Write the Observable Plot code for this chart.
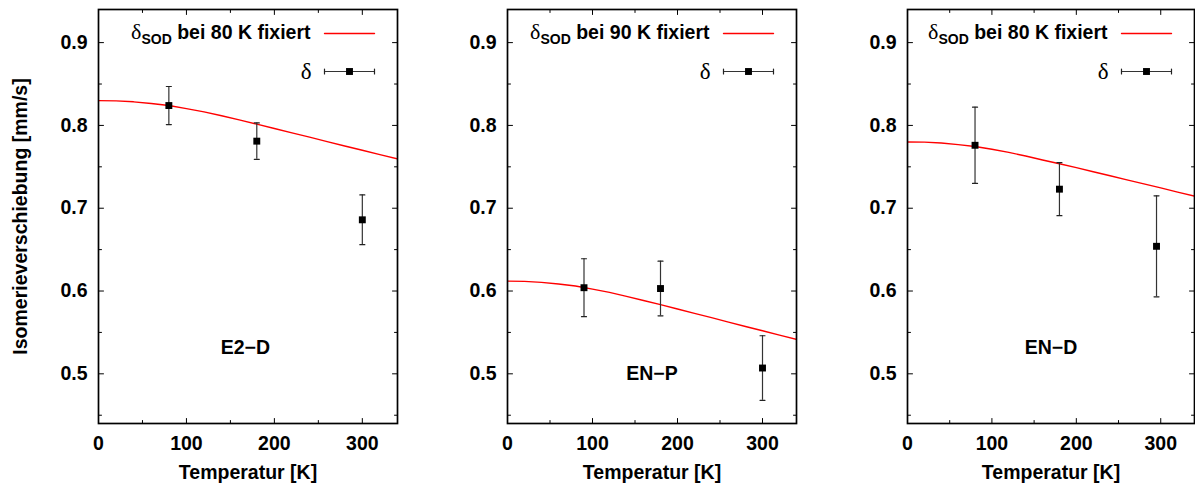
<!DOCTYPE html>
<html><head><meta charset="utf-8">
<script src="https://cdn.jsdelivr.net/npm/d3@7"></script>
<script src="https://cdn.jsdelivr.net/npm/@observablehq/plot@0.6"></script>
<style>
body{margin:0;background:#fff;}
#wrap{position:relative;width:1195px;height:484px;overflow:hidden;background:#fff;}
.panel{position:absolute;top:0;}
</style></head><body><div id="wrap"></div>
<script>
// ---- data ----
const sampleNames = ["E2−D", "EN−P", "EN−D"];
const fixLabels = ["δSOD bei 80 K fixiert", "δSOD bei 90 K fixiert", "δSOD bei 80 K fixiert"];

const tempE2D = [80, 180, 300];
const deltaE2D = [0.824, 0.781, 0.686];
const errE2D = [0.023, 0.022, 0.030];

const tempENP = [90, 180, 300];
const deltaENP = [0.604, 0.603, 0.507];
const errENP = [0.035, 0.033, 0.039];

const tempEND = [80, 180, 295];
const deltaEND = [0.776, 0.723, 0.654];
const errEND = [0.046, 0.032, 0.061];

const fitT = [0, 20, 40, 60, 80, 100, 120, 140, 160, 180, 200, 220, 240, 260, 280, 300, 320, 340];
const fitE2D = [0.830, 0.8297, 0.8285, 0.8265, 0.824, 0.8203, 0.8163, 0.8117, 0.8067, 0.8015, 0.7963, 0.791, 0.7858, 0.7805, 0.7752, 0.770, 0.7647, 0.7595];
const fitENP = [0.612, 0.6117, 0.6105, 0.6085, 0.606, 0.6023, 0.5983, 0.5935, 0.5885, 0.5835, 0.5783, 0.573, 0.5678, 0.5625, 0.5572, 0.552, 0.5467, 0.5415];
const fitEND = [0.780, 0.7798, 0.7787, 0.7768, 0.7745, 0.7712, 0.7675, 0.763, 0.7583, 0.7537, 0.749, 0.744, 0.7392, 0.7343, 0.7294, 0.7245, 0.7195, 0.7145];

const labelT = [167, 170, 170];
const labelDelta = [0.531, 0.500, 0.531];

const xMajor = [0, 100, 200, 300];
const xMinor = [50, 150, 250];
const yMajor = [0.5, 0.6, 0.7, 0.8, 0.9];
const yMinor = [0.45, 0.55, 0.65, 0.75, 0.85];

const xTitle = "Temperatur [K]";
const yTitle = "Isomerieverschiebung [mm/s]";
const legendPoint = "δ";

const series = [
  {T: tempE2D, d: deltaE2D, e: errE2D, fit: fitE2D},
  {T: tempENP, d: deltaENP, e: errENP, fit: fitENP},
  {T: tempEND, d: deltaEND, e: errEND, fit: fitEND}
];

// ---- layout ----
const layout = [
  {left: 0, width: 400, ml: 98, mr: 3},
  {left: 400, width: 400, ml: 107, mr: 4},
  {left: 800, width: 395, ml: 107, mr: 1}
];

const lineShape = {draw(ctx, l) { ctx.moveTo(0, 0); ctx.lineTo(0, -l); }};
const wrap = document.getElementById("wrap");

series.forEach((s, k) => {
  const lay = layout[k];
  const pts = s.T.map((t, i) => ({t, d: s.d[i], lo: s.d[i] - s.e[i], hi: s.d[i] + s.e[i]}));
  const fit = fitT.map((t, i) => ({t, v: s.fit[i]}));
  const lbl = [{t: labelT[k], d: labelDelta[k], text: sampleNames[k]}];
  const tick = (data, o) => Plot.vector(data, {...o, anchor: "start", shape: lineShape, stroke: "#000", strokeWidth: 1});

  const marks = [
    tick(xMajor, {x: d => d, frameAnchor: "bottom", rotate: 0, length: 5}),
    tick(xMinor, {x: d => d, frameAnchor: "bottom", rotate: 0, length: 3}),
    tick(xMajor, {x: d => d, frameAnchor: "top", rotate: 180, length: 5}),
    tick(xMinor, {x: d => d, frameAnchor: "top", rotate: 180, length: 3}),
    tick(yMajor, {y: d => d, frameAnchor: "left", rotate: 90, length: 5}),
    tick(yMinor, {y: d => d, frameAnchor: "left", rotate: 90, length: 3}),
    tick(yMajor, {y: d => d, frameAnchor: "right", rotate: -90, length: 5}),
    tick(yMinor, {y: d => d, frameAnchor: "right", rotate: -90, length: 3}),
    Plot.axisX({ticks: xMajor, tickSize: 0, tickPadding: 13, tickFormat: d => String(d), label: null}),
    Plot.axisY({ticks: yMajor, tickSize: 0, tickPadding: 11, tickFormat: d => d.toFixed(1), label: null}),
    Plot.text([xTitle], {frameAnchor: "bottom", dy: 49, lineAnchor: "middle", textAnchor: "middle"}),
    Plot.line(fit, {x: "t", y: "v", stroke: "#ff0000", strokeWidth: 1.4, clip: true}),
    Plot.ruleX(pts, {x: "t", y1: "lo", y2: "hi", stroke: "#333", strokeWidth: 1.2}),
    Plot.vector(pts, {x: "t", y: "lo", rotate: 90, length: 5, anchor: "middle", shape: lineShape, stroke: "#222", strokeWidth: 1.2}),
    Plot.vector(pts, {x: "t", y: "hi", rotate: 90, length: 5, anchor: "middle", shape: lineShape, stroke: "#222", strokeWidth: 1.2}),
    Plot.dot(pts, {x: "t", y: "d", symbol: "square", r: 3.9, fill: "#000", stroke: null}),
    Plot.text(lbl, {x: "t", y: "d", text: "text"}),
    Plot.text([fixLabels[k]], {frameAnchor: "top-right", dx: -87, dy: 23, textAnchor: "end", lineAnchor: "middle"}),
    Plot.vector([0], {frameAnchor: "top-right", dx: -48, dy: 24, rotate: 90, length: 50, anchor: "middle", shape: lineShape, stroke: "#ff0000", strokeWidth: 1.4}),
    Plot.text([legendPoint], {frameAnchor: "top-right", dx: -86, dy: 62, textAnchor: "end", lineAnchor: "middle", fontFamily: "Liberation Serif, serif", fontWeight: "normal", fontSize: 23}),
    Plot.vector([0], {frameAnchor: "top-right", dx: -48, dy: 62, rotate: 90, length: 50, anchor: "middle", shape: lineShape, stroke: "#333", strokeWidth: 1.2}),
    Plot.vector([0], {frameAnchor: "top-right", dx: -73, dy: 62, rotate: 0, length: 5, anchor: "middle", shape: lineShape, stroke: "#222", strokeWidth: 1.2}),
    Plot.vector([0], {frameAnchor: "top-right", dx: -23, dy: 62, rotate: 0, length: 5, anchor: "middle", shape: lineShape, stroke: "#222", strokeWidth: 1.2}),
    Plot.dot([0], {frameAnchor: "top-right", dx: -48, dy: 62, symbol: "square", r: 3.9, fill: "#000", stroke: null}),
    Plot.frame({stroke: "#000", strokeWidth: 1.7})
  ];
  if (k === 0) {
    marks.push(Plot.text([yTitle], {frameAnchor: "left", dx: -78, rotate: -90, textAnchor: "middle", lineAnchor: "middle"}));
  }

  const svg = Plot.plot({
    width: lay.width,
    height: 484,
    marginLeft: lay.ml,
    marginRight: lay.mr,
    marginTop: 9,
    marginBottom: 61,
    x: {domain: [0, 340]},
    y: {domain: [0.44, 0.94]},
    style: {fontFamily: "Liberation Sans, Arial, sans-serif", fontSize: "19.5px", fontWeight: "bold", background: "#fff", color: "#000", overflow: "visible"},
    marks
  });

  // subscript in legend label
  svg.querySelectorAll("text").forEach(t => {
    if (t.textContent === fixLabels[k]) {
      const ns = "http://www.w3.org/2000/svg";
      t.textContent = "";
      const a = document.createElementNS(ns, "tspan");
      a.setAttribute("font-family", "Liberation Serif, serif");
      a.setAttribute("font-weight", "normal");
      a.setAttribute("font-size", "22");
      a.textContent = fixLabels[k].slice(0, 1);
      const b = document.createElementNS(ns, "tspan");
      b.setAttribute("font-size", "14");
      b.setAttribute("dy", "5");
      b.textContent = fixLabels[k].slice(1, 4);
      const c = document.createElementNS(ns, "tspan");
      c.setAttribute("dy", "-5");
      c.textContent = fixLabels[k].slice(4);
      t.append(a, b, c);
    }
  });

  const div = document.createElement("div");
  div.className = "panel";
  div.style.left = lay.left + "px";
  div.appendChild(svg);
  wrap.appendChild(div);
});
</script></body></html>
